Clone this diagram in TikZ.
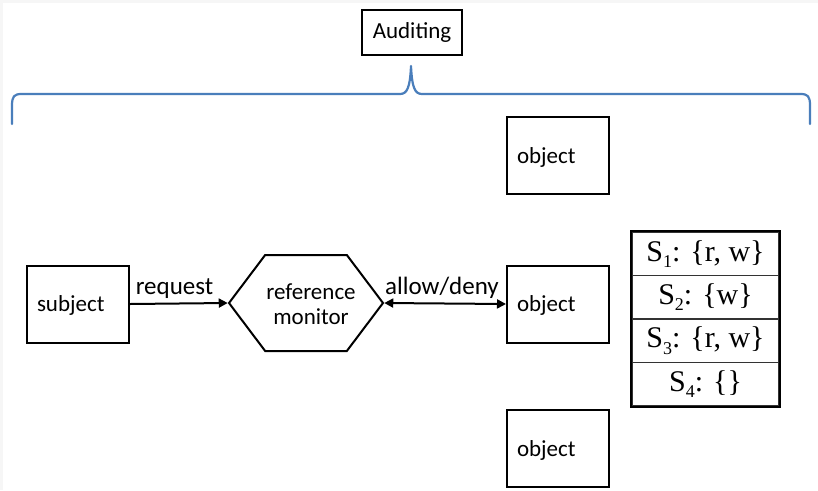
\documentclass[tikz,border=0pt]{standalone}
\usepackage{fontspec}
\setmainfont{Carlito}
\newfontfamily\tablefont{Liberation Serif}
\usetikzlibrary{arrows.meta,shapes.symbols}
\definecolor{braceblue}{RGB}{74,126,187}
\definecolor{edgegray}{RGB}{246,246,246}
\tikzset{
  px/.style={x=1pt,y=-1pt},
  box/.style={draw=black,line width=2pt,rectangle,minimum width=102pt,minimum height=77pt,
    text width=82pt,inner xsep=10pt,inner ysep=0pt,align=left,text depth=0pt,
    font=\fontsize{23}{25}\selectfont},
  hexbox/.style={draw=black,line width=2pt,signal,signal to=east and west,signal pointer angle=106,
    minimum width=154pt,minimum height=96pt,inner sep=0pt},
  armlabel/.style={anchor=base,inner sep=0pt,font=\fontsize{25}{27}\selectfont},
  conn/.style={line width=2pt,-{Triangle[length=9pt,width=9pt]}},
  biconn/.style={line width=2pt,{Triangle[length=9pt,width=9pt]}-{Triangle[length=9pt,width=9pt]}},
  acrow/.style={draw=black!80,line width=1.5pt,rectangle,minimum width=147pt,minimum height=43.5pt,
    inner sep=0pt,font=\tablefont\fontsize{30}{32}\selectfont},
  brace/.style={draw=braceblue,line width=2.2pt,line join=round,line cap=round}
}
\newcommand{\sid}[1]{S\raisebox{-0.45ex}{\fontsize{18}{18}\selectfont #1}}
\begin{document}
\begin{tikzpicture}[px]
  % page and its faint top/left edge
  \useasboundingbox (0,0) rectangle (818,490);
  \fill[white] (0,0) rectangle (818,490);
  \fill[edgegray] (0,0) rectangle (818,3);
  \fill[edgegray] (0,0) rectangle (3,490);

  % auditing box and the brace below it
  \node[draw=black,line width=2pt,minimum width=100pt,minimum height=45pt,inner sep=0pt,
        font=\fontsize{23}{25}\selectfont] (audit) at (412,32) {Auditing};
  \draw[brace] (12,124) -- (12,106) .. controls (12,96) and (14,94) .. (22,94)
    -- (400,94) .. controls (407,94) and (410,88) .. (411,66)
    .. controls (412,88) and (415,94) .. (422,94)
    -- (800,94) .. controls (808,94) and (810,96) .. (810,106) -- (810,124);

  % subject, reference monitor and objects
  \node[box] (subject) at (78,304) {subject};
  \node[hexbox] (rm) at (306,303) {};
  \node[align=center,inner sep=0pt,font=\fontsize{23}{25}\selectfont] (rmtext) at (311,304) {reference\\monitor};
  \node[box] (obj1) at (558,155.5) {object};
  \node[box] (obj2) at (558,304) {object};
  \node[box] (obj3) at (558,448.5) {object};

  \draw[conn] (subject.east) -- (rm.west);
  \draw[biconn] (rm.east) -- (obj2.west);
  \node[armlabel] (reqlabel) at (174.5,294) {request};
  \node[armlabel] (adlabel) at (442,294) {allow/deny};

  % access control list
  \node[acrow] (r1) at (705.5,253.75) {\sid{1}: \{r, w\}};
  \node[acrow] (r2) at (705.5,297.25) {\sid{2}: \{w\}};
  \node[acrow] (r3) at (705.5,340.75) {\sid{3}: \{r, w\}};
  \node[acrow] (r4) at (705.5,384.25) {\sid{4}: \{\}};
  \draw[line width=2pt] (r1.north west) rectangle (r4.south east);
\end{tikzpicture}
\end{document}
